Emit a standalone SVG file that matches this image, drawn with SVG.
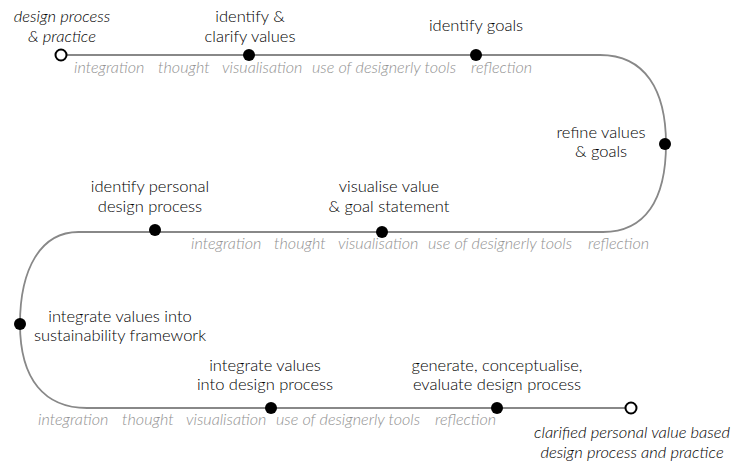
<svg xmlns="http://www.w3.org/2000/svg" width="743" height="470" viewBox="0 0 743 470">
<style>
.lbl{font-family:Lato,"Noto Sans","DejaVu Sans",sans-serif;font-size:16.5px;font-weight:300;fill:#000;text-anchor:middle}
.it{font-style:italic}
.cat{font-family:Lato,"Noto Sans","DejaVu Sans",sans-serif;font-size:16.2px;font-weight:300;font-style:italic;fill:#929292}
.fill{fill:#000}
.open{fill:#fff;stroke:#000;stroke-width:2}
.path{fill:none;stroke:#888;stroke-width:1.8}
</style>
<rect width="743" height="470" fill="#fff"/>
<g id="connectors">
<path class="path" d="M61,55 H600 C645,55 666,90 666,144 C666,200 645,232 603,232 H80 C40,231 20,270 20,324 C20,380 45,408 87,408 H631"/>
</g>
<g id="categories">
<text class="cat" x="74" y="73">integration</text>
<text class="cat" x="158" y="73">thought</text>
<text class="cat" x="222" y="73">visualisation</text>
<text class="cat" x="312" y="73">use of designerly tools</text>
<text class="cat" x="471" y="73">reflection</text>
<text class="cat" x="191" y="249">integration</text>
<text class="cat" x="274" y="249">thought</text>
<text class="cat" x="338" y="249">visualisation</text>
<text class="cat" x="428" y="249">use of designerly tools</text>
<text class="cat" x="588" y="249">reflection</text>
<text class="cat" x="38" y="425">integration</text>
<text class="cat" x="122" y="425">thought</text>
<text class="cat" x="186" y="425">visualisation</text>
<text class="cat" x="276" y="425">use of designerly tools</text>
<text class="cat" x="435" y="425">reflection</text>
</g>
<g id="start">
<circle class="open" cx="61" cy="55" r="5.5"/>
<text class="lbl it" x="62" y="22">design process</text>
<text class="lbl it" x="62" y="42">&amp; practice</text>
</g>
<g id="n1">
<circle class="fill" cx="249" cy="55" r="6"/>
<text class="lbl" x="250" y="22">identify &amp;</text>
<text class="lbl" x="250" y="42">clarify values</text>
</g>
<g id="n2">
<circle class="fill" cx="476" cy="55" r="6"/>
<text class="lbl" x="476" y="31">identify goals</text>
</g>
<g id="n3">
<circle class="fill" cx="665" cy="144" r="6"/>
<text class="lbl" x="601" y="138">refine values</text>
<text class="lbl" x="601" y="157">&amp; goals</text>
</g>
<g id="n4">
<circle class="fill" cx="155" cy="230" r="6"/>
<text class="lbl" x="150" y="192">identify personal</text>
<text class="lbl" x="150" y="212">design process</text>
</g>
<g id="n5">
<circle class="fill" cx="382" cy="232" r="6"/>
<text class="lbl" x="389" y="192">visualise value</text>
<text class="lbl" x="389" y="212">&amp; goal statement</text>
</g>
<g id="n6">
<circle class="fill" cx="20" cy="324" r="6"/>
<text class="lbl" x="120" y="322">integrate values into</text>
<text class="lbl" x="120" y="341">sustainability framework</text>
</g>
<g id="n7">
<circle class="fill" cx="271" cy="408" r="6"/>
<text class="lbl" x="265" y="371">integrate values</text>
<text class="lbl" x="265" y="390">into design process</text>
</g>
<g id="n8">
<circle class="fill" cx="497" cy="408" r="6"/>
<text class="lbl" x="497" y="371">generate, conceptualise,</text>
<text class="lbl" x="497" y="390">evaluate design process</text>
</g>
<g id="end">
<circle class="open" cx="631" cy="408" r="5.5"/>
<text class="lbl it" x="632" y="438">clarified personal value based</text>
<text class="lbl it" x="632" y="458">design process and practice</text>
</g>
</svg>
